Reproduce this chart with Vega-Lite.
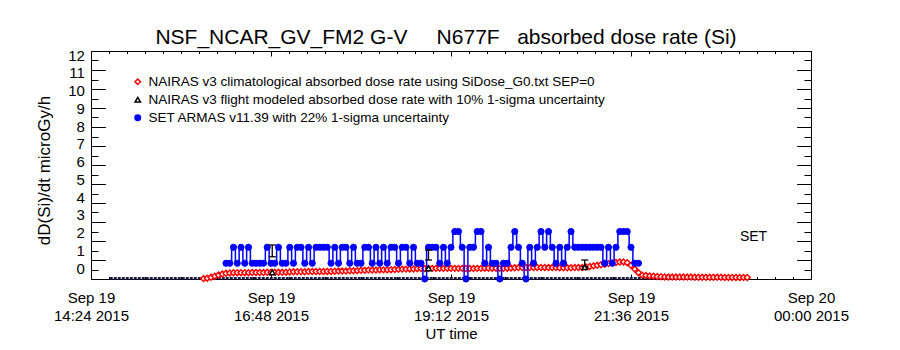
{
  "$schema": "https://vega.github.io/schema/vega-lite/v6.json",
  "width": 720,
  "height": 228,
  "autosize": "none",
  "padding": {"left": 91, "top": 51, "right": 89, "bottom": 71},
  "background": "white",
  "title": {
    "text": "NSF_NCAR_GV_FM2 G-V\u00a0\u00a0\u00a0\u00a0\u00a0N677F\u00a0\u00a0\u00a0absorbed dose rate (Si)",
    "font": "Liberation Sans", "fontSize": 21, "fontWeight": "normal", "color": "black",
    "anchor": "middle", "offset": 4, "dy": 4, "dx": -5
  },
  "config": {"view": {"stroke": "black", "strokeWidth": 1}},
  "datasets": {
    "base": [
      {"time": "2015-09-19T14:39:00Z", "dose": 0.04},
      {"time": "2015-09-19T23:07:00Z", "dose": 0.04}
    ],
    "red": [
      {"time": "2015-09-19T15:54:00Z", "dose": 0.02},
      {"time": "2015-09-19T15:57:00Z", "dose": 0.04},
      {"time": "2015-09-19T16:00:00Z", "dose": 0.09},
      {"time": "2015-09-19T16:03:00Z", "dose": 0.15},
      {"time": "2015-09-19T16:06:00Z", "dose": 0.21},
      {"time": "2015-09-19T16:09:00Z", "dose": 0.26},
      {"time": "2015-09-19T16:12:00Z", "dose": 0.30},
      {"time": "2015-09-19T16:15:00Z", "dose": 0.32},
      {"time": "2015-09-19T16:18:00Z", "dose": 0.33},
      {"time": "2015-09-19T16:21:00Z", "dose": 0.33},
      {"time": "2015-09-19T16:24:00Z", "dose": 0.33},
      {"time": "2015-09-19T16:27:00Z", "dose": 0.33},
      {"time": "2015-09-19T16:30:00Z", "dose": 0.33},
      {"time": "2015-09-19T16:33:00Z", "dose": 0.34},
      {"time": "2015-09-19T16:36:00Z", "dose": 0.34},
      {"time": "2015-09-19T16:39:00Z", "dose": 0.34},
      {"time": "2015-09-19T16:42:00Z", "dose": 0.34},
      {"time": "2015-09-19T16:45:00Z", "dose": 0.35},
      {"time": "2015-09-19T16:48:00Z", "dose": 0.35},
      {"time": "2015-09-19T16:51:00Z", "dose": 0.35},
      {"time": "2015-09-19T16:54:00Z", "dose": 0.35},
      {"time": "2015-09-19T16:57:00Z", "dose": 0.35},
      {"time": "2015-09-19T17:00:00Z", "dose": 0.36},
      {"time": "2015-09-19T17:03:00Z", "dose": 0.37},
      {"time": "2015-09-19T17:06:00Z", "dose": 0.38},
      {"time": "2015-09-19T17:09:00Z", "dose": 0.38},
      {"time": "2015-09-19T17:12:00Z", "dose": 0.38},
      {"time": "2015-09-19T17:15:00Z", "dose": 0.38},
      {"time": "2015-09-19T17:18:00Z", "dose": 0.39},
      {"time": "2015-09-19T17:21:00Z", "dose": 0.39},
      {"time": "2015-09-19T17:24:00Z", "dose": 0.39},
      {"time": "2015-09-19T17:27:00Z", "dose": 0.39},
      {"time": "2015-09-19T17:30:00Z", "dose": 0.39},
      {"time": "2015-09-19T17:33:00Z", "dose": 0.40},
      {"time": "2015-09-19T17:36:00Z", "dose": 0.40},
      {"time": "2015-09-19T17:39:00Z", "dose": 0.41},
      {"time": "2015-09-19T17:42:00Z", "dose": 0.42},
      {"time": "2015-09-19T17:45:00Z", "dose": 0.42},
      {"time": "2015-09-19T17:48:00Z", "dose": 0.42},
      {"time": "2015-09-19T17:51:00Z", "dose": 0.43},
      {"time": "2015-09-19T17:54:00Z", "dose": 0.43},
      {"time": "2015-09-19T17:57:00Z", "dose": 0.44},
      {"time": "2015-09-19T18:00:00Z", "dose": 0.46},
      {"time": "2015-09-19T18:03:00Z", "dose": 0.46},
      {"time": "2015-09-19T18:06:00Z", "dose": 0.47},
      {"time": "2015-09-19T18:09:00Z", "dose": 0.47},
      {"time": "2015-09-19T18:12:00Z", "dose": 0.47},
      {"time": "2015-09-19T18:15:00Z", "dose": 0.48},
      {"time": "2015-09-19T18:18:00Z", "dose": 0.48},
      {"time": "2015-09-19T18:21:00Z", "dose": 0.48},
      {"time": "2015-09-19T18:24:00Z", "dose": 0.49},
      {"time": "2015-09-19T18:27:00Z", "dose": 0.50},
      {"time": "2015-09-19T18:30:00Z", "dose": 0.51},
      {"time": "2015-09-19T18:33:00Z", "dose": 0.52},
      {"time": "2015-09-19T18:36:00Z", "dose": 0.52},
      {"time": "2015-09-19T18:39:00Z", "dose": 0.53},
      {"time": "2015-09-19T18:42:00Z", "dose": 0.53},
      {"time": "2015-09-19T18:45:00Z", "dose": 0.54},
      {"time": "2015-09-19T18:48:00Z", "dose": 0.55},
      {"time": "2015-09-19T18:51:00Z", "dose": 0.55},
      {"time": "2015-09-19T18:54:00Z", "dose": 0.56},
      {"time": "2015-09-19T18:57:00Z", "dose": 0.56},
      {"time": "2015-09-19T19:00:00Z", "dose": 0.56},
      {"time": "2015-09-19T19:03:00Z", "dose": 0.56},
      {"time": "2015-09-19T19:06:00Z", "dose": 0.56},
      {"time": "2015-09-19T19:09:00Z", "dose": 0.56},
      {"time": "2015-09-19T19:12:00Z", "dose": 0.56},
      {"time": "2015-09-19T19:15:00Z", "dose": 0.56},
      {"time": "2015-09-19T19:18:00Z", "dose": 0.56},
      {"time": "2015-09-19T19:21:00Z", "dose": 0.56},
      {"time": "2015-09-19T19:24:00Z", "dose": 0.55},
      {"time": "2015-09-19T19:27:00Z", "dose": 0.55},
      {"time": "2015-09-19T19:30:00Z", "dose": 0.55},
      {"time": "2015-09-19T19:33:00Z", "dose": 0.56},
      {"time": "2015-09-19T19:36:00Z", "dose": 0.56},
      {"time": "2015-09-19T19:39:00Z", "dose": 0.57},
      {"time": "2015-09-19T19:42:00Z", "dose": 0.57},
      {"time": "2015-09-19T19:45:00Z", "dose": 0.57},
      {"time": "2015-09-19T19:48:00Z", "dose": 0.57},
      {"time": "2015-09-19T19:51:00Z", "dose": 0.56},
      {"time": "2015-09-19T19:54:00Z", "dose": 0.56},
      {"time": "2015-09-19T19:57:00Z", "dose": 0.57},
      {"time": "2015-09-19T20:00:00Z", "dose": 0.58},
      {"time": "2015-09-19T20:03:00Z", "dose": 0.59},
      {"time": "2015-09-19T20:06:00Z", "dose": 0.60},
      {"time": "2015-09-19T20:09:00Z", "dose": 0.60},
      {"time": "2015-09-19T20:12:00Z", "dose": 0.60},
      {"time": "2015-09-19T20:15:00Z", "dose": 0.60},
      {"time": "2015-09-19T20:18:00Z", "dose": 0.60},
      {"time": "2015-09-19T20:21:00Z", "dose": 0.61},
      {"time": "2015-09-19T20:24:00Z", "dose": 0.61},
      {"time": "2015-09-19T20:27:00Z", "dose": 0.61},
      {"time": "2015-09-19T20:30:00Z", "dose": 0.60},
      {"time": "2015-09-19T20:33:00Z", "dose": 0.60},
      {"time": "2015-09-19T20:36:00Z", "dose": 0.60},
      {"time": "2015-09-19T20:39:00Z", "dose": 0.59},
      {"time": "2015-09-19T20:42:00Z", "dose": 0.59},
      {"time": "2015-09-19T20:45:00Z", "dose": 0.59},
      {"time": "2015-09-19T20:48:00Z", "dose": 0.59},
      {"time": "2015-09-19T20:51:00Z", "dose": 0.60},
      {"time": "2015-09-19T20:54:00Z", "dose": 0.60},
      {"time": "2015-09-19T20:57:00Z", "dose": 0.61},
      {"time": "2015-09-19T21:00:00Z", "dose": 0.63},
      {"time": "2015-09-19T21:03:00Z", "dose": 0.66},
      {"time": "2015-09-19T21:06:00Z", "dose": 0.69},
      {"time": "2015-09-19T21:09:00Z", "dose": 0.72},
      {"time": "2015-09-19T21:12:00Z", "dose": 0.75},
      {"time": "2015-09-19T21:15:00Z", "dose": 0.78},
      {"time": "2015-09-19T21:18:00Z", "dose": 0.81},
      {"time": "2015-09-19T21:21:00Z", "dose": 0.84},
      {"time": "2015-09-19T21:24:00Z", "dose": 0.87},
      {"time": "2015-09-19T21:27:00Z", "dose": 0.89},
      {"time": "2015-09-19T21:30:00Z", "dose": 0.90},
      {"time": "2015-09-19T21:33:00Z", "dose": 0.86},
      {"time": "2015-09-19T21:36:00Z", "dose": 0.72},
      {"time": "2015-09-19T21:39:00Z", "dose": 0.52},
      {"time": "2015-09-19T21:42:00Z", "dose": 0.33},
      {"time": "2015-09-19T21:45:00Z", "dose": 0.20},
      {"time": "2015-09-19T21:48:00Z", "dose": 0.18},
      {"time": "2015-09-19T21:51:00Z", "dose": 0.16},
      {"time": "2015-09-19T21:54:00Z", "dose": 0.15},
      {"time": "2015-09-19T21:57:00Z", "dose": 0.13},
      {"time": "2015-09-19T22:00:00Z", "dose": 0.12},
      {"time": "2015-09-19T22:03:00Z", "dose": 0.11},
      {"time": "2015-09-19T22:06:00Z", "dose": 0.10},
      {"time": "2015-09-19T22:09:00Z", "dose": 0.10},
      {"time": "2015-09-19T22:12:00Z", "dose": 0.10},
      {"time": "2015-09-19T22:15:00Z", "dose": 0.10},
      {"time": "2015-09-19T22:18:00Z", "dose": 0.10},
      {"time": "2015-09-19T22:21:00Z", "dose": 0.10},
      {"time": "2015-09-19T22:24:00Z", "dose": 0.10},
      {"time": "2015-09-19T22:27:00Z", "dose": 0.09},
      {"time": "2015-09-19T22:30:00Z", "dose": 0.09},
      {"time": "2015-09-19T22:33:00Z", "dose": 0.09},
      {"time": "2015-09-19T22:36:00Z", "dose": 0.09},
      {"time": "2015-09-19T22:39:00Z", "dose": 0.09},
      {"time": "2015-09-19T22:42:00Z", "dose": 0.09},
      {"time": "2015-09-19T22:45:00Z", "dose": 0.09},
      {"time": "2015-09-19T22:48:00Z", "dose": 0.09},
      {"time": "2015-09-19T22:51:00Z", "dose": 0.08},
      {"time": "2015-09-19T22:54:00Z", "dose": 0.08},
      {"time": "2015-09-19T22:57:00Z", "dose": 0.08},
      {"time": "2015-09-19T23:00:00Z", "dose": 0.08},
      {"time": "2015-09-19T23:03:00Z", "dose": 0.08},
      {"time": "2015-09-19T23:06:00Z", "dose": 0.08},
      {"time": "2015-09-19T23:09:00Z", "dose": 0.08}
    ],
    "set": [
      {"time": "2015-09-19T16:12:00Z", "dose": 0.83},
      {"time": "2015-09-19T16:15:00Z", "dose": 0.83},
      {"time": "2015-09-19T16:18:00Z", "dose": 1.67},
      {"time": "2015-09-19T16:21:00Z", "dose": 0.83},
      {"time": "2015-09-19T16:24:00Z", "dose": 1.67},
      {"time": "2015-09-19T16:27:00Z", "dose": 0.83},
      {"time": "2015-09-19T16:30:00Z", "dose": 1.67},
      {"time": "2015-09-19T16:33:00Z", "dose": 0.83},
      {"time": "2015-09-19T16:36:00Z", "dose": 0.83},
      {"time": "2015-09-19T16:39:00Z", "dose": 0.83},
      {"time": "2015-09-19T16:42:00Z", "dose": 0.83},
      {"time": "2015-09-19T16:45:00Z", "dose": 1.67},
      {"time": "2015-09-19T16:48:00Z", "dose": 0.83},
      {"time": "2015-09-19T16:51:00Z", "dose": 0.83},
      {"time": "2015-09-19T16:54:00Z", "dose": 1.67},
      {"time": "2015-09-19T16:57:00Z", "dose": 0.83},
      {"time": "2015-09-19T17:00:00Z", "dose": 0.83},
      {"time": "2015-09-19T17:03:00Z", "dose": 1.67},
      {"time": "2015-09-19T17:06:00Z", "dose": 0.83},
      {"time": "2015-09-19T17:09:00Z", "dose": 1.67},
      {"time": "2015-09-19T17:12:00Z", "dose": 1.67},
      {"time": "2015-09-19T17:15:00Z", "dose": 0.83},
      {"time": "2015-09-19T17:18:00Z", "dose": 1.67},
      {"time": "2015-09-19T17:21:00Z", "dose": 0.83},
      {"time": "2015-09-19T17:24:00Z", "dose": 1.67},
      {"time": "2015-09-19T17:27:00Z", "dose": 1.67},
      {"time": "2015-09-19T17:30:00Z", "dose": 1.67},
      {"time": "2015-09-19T17:33:00Z", "dose": 1.67},
      {"time": "2015-09-19T17:36:00Z", "dose": 0.83},
      {"time": "2015-09-19T17:39:00Z", "dose": 1.67},
      {"time": "2015-09-19T17:42:00Z", "dose": 0.83},
      {"time": "2015-09-19T17:45:00Z", "dose": 1.67},
      {"time": "2015-09-19T17:48:00Z", "dose": 1.67},
      {"time": "2015-09-19T17:51:00Z", "dose": 0.83},
      {"time": "2015-09-19T17:54:00Z", "dose": 1.67},
      {"time": "2015-09-19T17:57:00Z", "dose": 0.83},
      {"time": "2015-09-19T18:00:00Z", "dose": 0.83},
      {"time": "2015-09-19T18:03:00Z", "dose": 1.67},
      {"time": "2015-09-19T18:06:00Z", "dose": 1.67},
      {"time": "2015-09-19T18:09:00Z", "dose": 0.83},
      {"time": "2015-09-19T18:12:00Z", "dose": 1.67},
      {"time": "2015-09-19T18:15:00Z", "dose": 0.83},
      {"time": "2015-09-19T18:18:00Z", "dose": 1.67},
      {"time": "2015-09-19T18:21:00Z", "dose": 0.83},
      {"time": "2015-09-19T18:24:00Z", "dose": 1.67},
      {"time": "2015-09-19T18:27:00Z", "dose": 1.67},
      {"time": "2015-09-19T18:30:00Z", "dose": 0.83},
      {"time": "2015-09-19T18:33:00Z", "dose": 1.67},
      {"time": "2015-09-19T18:36:00Z", "dose": 1.67},
      {"time": "2015-09-19T18:39:00Z", "dose": 0.83},
      {"time": "2015-09-19T18:42:00Z", "dose": 1.67},
      {"time": "2015-09-19T18:45:00Z", "dose": 0.83},
      {"time": "2015-09-19T18:48:00Z", "dose": 0.83},
      {"time": "2015-09-19T18:51:00Z", "dose": 0.0},
      {"time": "2015-09-19T18:54:00Z", "dose": 1.67},
      {"time": "2015-09-19T18:57:00Z", "dose": 1.67},
      {"time": "2015-09-19T19:00:00Z", "dose": 1.67},
      {"time": "2015-09-19T19:03:00Z", "dose": 0.83},
      {"time": "2015-09-19T19:06:00Z", "dose": 1.67},
      {"time": "2015-09-19T19:09:00Z", "dose": 0.83},
      {"time": "2015-09-19T19:12:00Z", "dose": 1.67},
      {"time": "2015-09-19T19:15:00Z", "dose": 2.5},
      {"time": "2015-09-19T19:18:00Z", "dose": 2.5},
      {"time": "2015-09-19T19:21:00Z", "dose": 1.67},
      {"time": "2015-09-19T19:24:00Z", "dose": 0.0},
      {"time": "2015-09-19T19:27:00Z", "dose": 1.67},
      {"time": "2015-09-19T19:30:00Z", "dose": 1.67},
      {"time": "2015-09-19T19:33:00Z", "dose": 2.5},
      {"time": "2015-09-19T19:36:00Z", "dose": 2.5},
      {"time": "2015-09-19T19:39:00Z", "dose": 0.83},
      {"time": "2015-09-19T19:42:00Z", "dose": 1.67},
      {"time": "2015-09-19T19:45:00Z", "dose": 0.83},
      {"time": "2015-09-19T19:48:00Z", "dose": 0.83},
      {"time": "2015-09-19T19:51:00Z", "dose": 0.0},
      {"time": "2015-09-19T19:54:00Z", "dose": 0.83},
      {"time": "2015-09-19T19:57:00Z", "dose": 0.83},
      {"time": "2015-09-19T20:00:00Z", "dose": 1.67},
      {"time": "2015-09-19T20:03:00Z", "dose": 2.5},
      {"time": "2015-09-19T20:06:00Z", "dose": 1.67},
      {"time": "2015-09-19T20:09:00Z", "dose": 0.83},
      {"time": "2015-09-19T20:12:00Z", "dose": 0.0},
      {"time": "2015-09-19T20:15:00Z", "dose": 1.67},
      {"time": "2015-09-19T20:18:00Z", "dose": 0.83},
      {"time": "2015-09-19T20:21:00Z", "dose": 1.67},
      {"time": "2015-09-19T20:24:00Z", "dose": 2.5},
      {"time": "2015-09-19T20:27:00Z", "dose": 1.67},
      {"time": "2015-09-19T20:30:00Z", "dose": 2.5},
      {"time": "2015-09-19T20:33:00Z", "dose": 1.67},
      {"time": "2015-09-19T20:36:00Z", "dose": 0.83},
      {"time": "2015-09-19T20:39:00Z", "dose": 1.67},
      {"time": "2015-09-19T20:42:00Z", "dose": 0.83},
      {"time": "2015-09-19T20:45:00Z", "dose": 1.67},
      {"time": "2015-09-19T20:48:00Z", "dose": 2.5},
      {"time": "2015-09-19T20:51:00Z", "dose": 1.67},
      {"time": "2015-09-19T20:54:00Z", "dose": 1.67},
      {"time": "2015-09-19T20:57:00Z", "dose": 1.67},
      {"time": "2015-09-19T21:00:00Z", "dose": 1.67},
      {"time": "2015-09-19T21:03:00Z", "dose": 1.67},
      {"time": "2015-09-19T21:06:00Z", "dose": 1.67},
      {"time": "2015-09-19T21:09:00Z", "dose": 1.67},
      {"time": "2015-09-19T21:12:00Z", "dose": 1.67},
      {"time": "2015-09-19T21:15:00Z", "dose": 0.83},
      {"time": "2015-09-19T21:18:00Z", "dose": 1.67},
      {"time": "2015-09-19T21:21:00Z", "dose": 0.83},
      {"time": "2015-09-19T21:24:00Z", "dose": 1.67},
      {"time": "2015-09-19T21:27:00Z", "dose": 2.5},
      {"time": "2015-09-19T21:30:00Z", "dose": 2.5},
      {"time": "2015-09-19T21:33:00Z", "dose": 2.5},
      {"time": "2015-09-19T21:36:00Z", "dose": 1.67},
      {"time": "2015-09-19T21:39:00Z", "dose": 0.83},
      {"time": "2015-09-19T21:42:00Z", "dose": 0.83}
    ],
    "flight": [
      {"time": "2015-09-19T16:49:00Z", "dose": 0.35, "set_lo": 1.17, "set_hi": 1.79},
      {"time": "2015-09-19T18:54:00Z", "dose": 0.56, "set_lo": 1.0, "set_hi": 1.53},
      {"time": "2015-09-19T20:59:00Z", "dose": 0.62, "set_lo": 0.65, "set_hi": 1.0}
    ],
    "note": [
      {"time": "2015-09-19T23:14:00Z", "dose": 2.2, "label": "SET"}
    ]
  },
  "layer": [
    {
      "data": {"name": "base"},
      "mark": {"type": "line", "color": "#1c1c48", "strokeWidth": 2.5, "strokeDash": [3, 1]},
      "encoding": {
        "x": {
          "field": "time", "type": "temporal",
          "scale": {"type": "utc", "domain": [1442672640000, 1442707200000]},
          "axis": {
            "orient": "bottom",
            "values": [1442672640000,1442673504000,1442674368000,1442675232000,1442676096000,1442676960000,1442677824000,1442678688000,1442679552000,1442680416000,1442681280000,1442682144000,1442683008000,1442683872000,1442684736000,1442685600000,1442686464000,1442687328000,1442688192000,1442689056000,1442689920000,1442690784000,1442691648000,1442692512000,1442693376000,1442694240000,1442695104000,1442695968000,1442696832000,1442697696000,1442698560000,1442699424000,1442700288000,1442701152000,1442702016000,1442702880000,1442703744000,1442704608000,1442705472000,1442706336000,1442707200000],
            "domain": false, "grid": false,
            "tickColor": "black", "tickWidth": 1,
            "tickSize": {"condition": {"test": "(toNumber(datum.value) - 1442672640000) % 8640000 == 0", "value": -5}, "value": -2.5},
            "labelExpr": "(toNumber(datum.value) - 1442672640000) % 8640000 == 0 ? [utcFormat(datum.value, '%b %d'), utcFormat(datum.value, '%H:%M %Y')] : ''",
            "labelFont": "Liberation Sans", "labelFontSize": 15, "labelColor": "black",
            "labelLineHeight": 18, "labelBaseline": "top", "labelPadding": 16,
            "labelOverlap": false, "labelFlush": false, "labelBound": false,
            "title": "UT time", "titleFont": "Liberation Sans", "titleFontSize": 15,
            "titleFontWeight": "normal", "titleColor": "black",
            "titleX": 360, "titleY": 54, "titleBaseline": "middle", "titleAlign": "center"
          }
        },
        "y": {
          "field": "dose", "type": "quantitative",
          "scale": {"domain": [0, 12], "nice": false, "zero": false},
          "axis": {
            "orient": "left",
            "values": [0,0.5,1,1.5,2,2.5,3,3.5,4,4.5,5,5.5,6,6.5,7,7.5,8,8.5,9,9.5,10,10.5,11,11.5,12],
            "domain": false, "grid": false,
            "tickColor": "black", "tickWidth": 1,
            "tickSize": {"condition": {"test": "datum.value % 1 == 0", "value": -14.4}, "value": -7},
            "labelExpr": "datum.value % 1 == 0 ? format(datum.value, 'd') : ''",
            "labelFont": "Liberation Sans", "labelFontSize": 15, "labelColor": "black",
            "labelPadding": 21, "labelBaseline": "middle", "labelOverlap": false, "labelFlush": false, "labelBound": false,
            "labelOffset": {"expr": "-11 + 1.25 * datum.value"},
            "title": "dD(Si)/dt microGy/h", "titleFont": "Liberation Sans", "titleFontSize": 17,
            "titleFontWeight": "normal", "titleColor": "black",
            "titleX": -47, "titleY": 119, "titleBaseline": "middle", "titleAlign": "center", "titleAngle": 270
          }
        }
      }
    },
    {
      "data": {"name": "red"},
      "mark": {"type": "line", "color": "#ff0000", "strokeWidth": 1},
      "encoding": {
        "x": {
          "field": "time", "type": "temporal",
          "axis": {
            "orient": "top",
            "values": [1442672640000,1442673504000,1442674368000,1442675232000,1442676096000,1442676960000,1442677824000,1442678688000,1442679552000,1442680416000,1442681280000,1442682144000,1442683008000,1442683872000,1442684736000,1442685600000,1442686464000,1442687328000,1442688192000,1442689056000,1442689920000,1442690784000,1442691648000,1442692512000,1442693376000,1442694240000,1442695104000,1442695968000,1442696832000,1442697696000,1442698560000,1442699424000,1442700288000,1442701152000,1442702016000,1442702880000,1442703744000,1442704608000,1442705472000,1442706336000,1442707200000],
            "domain": false, "grid": false, "labels": false, "title": null,
            "tickColor": "black", "tickWidth": 1,
            "tickSize": {"condition": {"test": "(toNumber(datum.value) - 1442672640000) % 8640000 == 0", "value": -5}, "value": -2.5}
          }
        },
        "y": {
          "field": "dose", "type": "quantitative",
          "axis": {
            "orient": "right",
            "values": [0,0.5,1,1.5,2,2.5,3,3.5,4,4.5,5,5.5,6,6.5,7,7.5,8,8.5,9,9.5,10,10.5,11,11.5,12],
            "domain": false, "grid": false, "labels": false, "title": null,
            "tickColor": "black", "tickWidth": 1,
            "tickSize": {"condition": {"test": "datum.value % 1 == 0", "value": -14.4}, "value": -7}
          }
        }
      }
    },
    {
      "data": {"name": "red"},
      "mark": {"type": "point", "size": 34, "strokeWidth": 1.5, "opacity": 1},
      "encoding": {
        "x": {"field": "time", "type": "temporal", "axis": null},
        "y": {"field": "dose", "type": "quantitative", "axis": null},
        "fill": {
          "datum": "NAIRAS v3 climatological absorbed dose rate using SiDose_G0.txt SEP=0",
          "type": "nominal",
          "scale": {
            "domain": [
              "NAIRAS v3 climatological absorbed dose rate using SiDose_G0.txt SEP=0",
              "NAIRAS v3 flight modeled absorbed dose rate with 10% 1-sigma uncertainty",
              "SET ARMAS v11.39 with 22% 1-sigma uncertainty"
            ],
            "range": ["#ffffff", "#ffffff", "#0000ff"]
          },
          "legend": {
            "orient": "none", "legendX": 40, "legendY": 24, "title": null,
            "padding": 0, "rowPadding": 3, "labelOffset": 4, "labelLimit": 0,
            "labelFont": "Liberation Sans", "labelFontSize": 13.5, "labelColor": "black",
            "symbolSize": 30, "symbolStrokeWidth": 1.5, "symbolOpacity": 1
          }
        },
        "stroke": {
          "datum": "NAIRAS v3 climatological absorbed dose rate using SiDose_G0.txt SEP=0",
          "type": "nominal",
          "scale": {
            "domain": [
              "NAIRAS v3 climatological absorbed dose rate using SiDose_G0.txt SEP=0",
              "NAIRAS v3 flight modeled absorbed dose rate with 10% 1-sigma uncertainty",
              "SET ARMAS v11.39 with 22% 1-sigma uncertainty"
            ],
            "range": ["#ff0000", "#000000", "#0000ff"]
          },
          "legend": {
            "orient": "none", "legendX": 40, "legendY": 24, "title": null,
            "padding": 0, "rowPadding": 3, "labelOffset": 4, "labelLimit": 0,
            "labelFont": "Liberation Sans", "labelFontSize": 13.5, "labelColor": "black",
            "symbolSize": 30, "symbolStrokeWidth": 1.5, "symbolOpacity": 1
          }
        },
        "shape": {
          "datum": "NAIRAS v3 climatological absorbed dose rate using SiDose_G0.txt SEP=0",
          "type": "nominal",
          "scale": {
            "domain": [
              "NAIRAS v3 climatological absorbed dose rate using SiDose_G0.txt SEP=0",
              "NAIRAS v3 flight modeled absorbed dose rate with 10% 1-sigma uncertainty",
              "SET ARMAS v11.39 with 22% 1-sigma uncertainty"
            ],
            "range": ["diamond", "triangle-up", "circle"]
          },
          "legend": {
            "orient": "none", "legendX": 40, "legendY": 24, "title": null,
            "padding": 0, "rowPadding": 3, "labelOffset": 4, "labelLimit": 0,
            "labelFont": "Liberation Sans", "labelFontSize": 13.5, "labelColor": "black",
            "symbolSize": 30, "symbolStrokeWidth": 1.5, "symbolOpacity": 1
          }
        }
      }
    },
    {
      "data": {"name": "set"},
      "mark": {"type": "line", "color": "#0000ff", "strokeWidth": 1.5, "interpolate": "step"},
      "encoding": {
        "x": {"field": "time", "type": "temporal", "axis": null},
        "y": {"field": "dose", "type": "quantitative", "axis": null}
      }
    },
    {
      "data": {"name": "set"},
      "mark": {"type": "point", "size": 38, "strokeWidth": 1, "opacity": 1},
      "encoding": {
        "x": {"field": "time", "type": "temporal", "axis": null},
        "y": {"field": "dose", "type": "quantitative", "axis": null},
        "fill": {"datum": "SET ARMAS v11.39 with 22% 1-sigma uncertainty", "type": "nominal"},
        "stroke": {"datum": "SET ARMAS v11.39 with 22% 1-sigma uncertainty", "type": "nominal"},
        "shape": {"datum": "SET ARMAS v11.39 with 22% 1-sigma uncertainty", "type": "nominal"}
      }
    },
    {
      "data": {"name": "flight"},
      "mark": {"type": "rule", "color": "black", "strokeWidth": 1.3},
      "encoding": {
        "x": {"field": "time", "type": "temporal", "axis": null},
        "y": {"field": "set_lo", "type": "quantitative", "axis": null},
        "y2": {"field": "set_hi"}
      }
    },
    {
      "data": {"name": "flight"},
      "mark": {"type": "tick", "orient": "horizontal", "color": "black", "size": 7, "thickness": 1.3, "opacity": 1},
      "encoding": {
        "x": {"field": "time", "type": "temporal", "axis": null},
        "y": {"field": "set_lo", "type": "quantitative", "axis": null}
      }
    },
    {
      "data": {"name": "flight"},
      "mark": {"type": "tick", "orient": "horizontal", "color": "black", "size": 7, "thickness": 1.3, "opacity": 1},
      "encoding": {
        "x": {"field": "time", "type": "temporal", "axis": null},
        "y": {"field": "set_hi", "type": "quantitative", "axis": null}
      }
    },
    {
      "data": {"name": "flight"},
      "mark": {"type": "point", "size": 30, "strokeWidth": 1.5, "opacity": 1},
      "encoding": {
        "x": {"field": "time", "type": "temporal", "axis": null},
        "y": {"field": "dose", "type": "quantitative", "axis": null},
        "fill": {"datum": "NAIRAS v3 flight modeled absorbed dose rate with 10% 1-sigma uncertainty", "type": "nominal"},
        "stroke": {"datum": "NAIRAS v3 flight modeled absorbed dose rate with 10% 1-sigma uncertainty", "type": "nominal"},
        "shape": {"datum": "NAIRAS v3 flight modeled absorbed dose rate with 10% 1-sigma uncertainty", "type": "nominal"}
      }
    },
    {
      "data": {"name": "note"},
      "mark": {"type": "text", "font": "Liberation Sans", "fontSize": 14, "color": "black", "align": "center", "baseline": "middle"},
      "encoding": {
        "x": {"field": "time", "type": "temporal", "axis": null},
        "y": {"field": "dose", "type": "quantitative", "axis": null},
        "text": {"field": "label"}
      }
    }
  ]
}
